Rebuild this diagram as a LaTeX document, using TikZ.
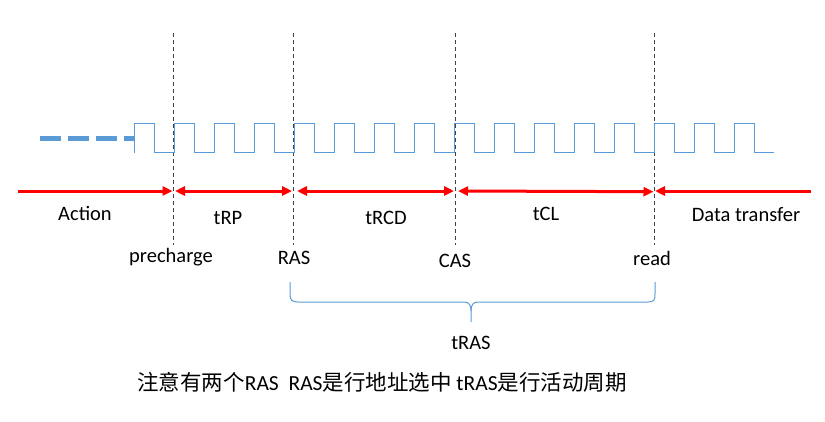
\documentclass[tikz,border=0pt]{standalone}
\usepackage{fontspec}
\setmainfont{Carlito}
\newfontfamily\cjk{Noto Sans CJK SC}
\usetikzlibrary{arrows.meta}
\definecolor{wave}{HTML}{5B9BD5}
\begin{document}
\begin{tikzpicture}[x=1pt,y=-1pt,
  font=\fontsize{20.5}{24}\selectfont,
  guide/.style={black!75, line width=0.8pt, dash pattern=on 4pt off 3pt},
  redline/.style={red, line width=3pt},
  lbl/.style={inner sep=0pt, text=black}]
\useasboundingbox (0,0) rectangle (825,421);
% guide lines
\foreach \n/\x in {pre/173,ras/293,cas/455,rd/654}{
  \coordinate (\n-t) at (\x,33);
  \coordinate (\n-b) at (\x,245);
  \coordinate (\n-m) at (\x,191);
  \draw[guide] (\n-t) -- (\n-b);
}
% clock
\coordinate (dstart) at (40,138);
\coordinate (dend) at (134,138);
\draw[wave, line width=5pt, dash pattern=on 21pt off 7pt] (dstart) -- (dend);
\draw[wave, line width=1pt] (134,152.5) foreach \i in {0,...,15} { -- ++(0,-29) -- ++(20,0) -- ++(0,29) -- ++(20,0) };
% red arrows
\coordinate (aleft) at (18,191);
\coordinate (aright) at (811,191);
\draw[redline, -{Triangle[length=10pt,width=9pt]}] (aleft) -- ([xshift=-0.5pt]pre-m);
\draw[redline, {Triangle[length=10pt,width=9pt]}-{Triangle[length=10pt,width=9pt]}] ([xshift=2pt]pre-m) -- ([xshift=-1pt]ras-m);
\draw[redline, {Triangle[length=10pt,width=9pt]}-{Triangle[length=10pt,width=9pt]}] ([xshift=4pt]ras-m) -- ([xshift=-1pt]cas-m);
\draw[redline, {Triangle[length=10pt,width=9pt]}-{Triangle[length=10pt,width=9pt]}] ([xshift=3pt]cas-m) -- ([xshift=-0.5pt,yshift=-0.7pt]rd-m);
\draw[redline, {Triangle[length=10pt,width=9pt]}-] ([xshift=1pt]rd-m) -- (aright);
% labels
\node[lbl] (action) at (85,213) {Action};
\node[lbl] (trp) at (228,218) {tRP};
\node[lbl] (trcd) at (386,218) {tRCD};
\node[lbl] (tcl) at (546,214) {tCL};
\node[lbl] (dt) at (746,215) {Data transfer};
\node[lbl] (prel) at (171,257) {precharge};
\node[lbl] (rasl) at (294,258) {RAS};
\node[lbl] (casl) at (455,261) {CAS};
\node[lbl] (readl) at (652,258) {read};
\node[lbl] (tras) at (471,343) {tRAS};
% brace
\draw[wave, line width=1pt] (290,282) -- (290,294) .. controls (290,300) and (292,302) .. (298,302)
  -- (464,302) .. controls (469,302) and (471,305) .. (471,311) -- (471,322);
\draw[wave, line width=1pt] (471,311) .. controls (471,305) and (473,302) .. (478,302)
  -- (648,302) .. controls (654,302) and (655,300) .. (655,294) -- (655,282);
% note
\node[lbl, font=\fontsize{21.5}{25}\selectfont] (note) at (382,382) {{\cjk 注意有两个}RAS\ \ RAS{\cjk 是行地址选中} tRAS{\cjk 是行活动周期}};
\end{tikzpicture}
\end{document}
